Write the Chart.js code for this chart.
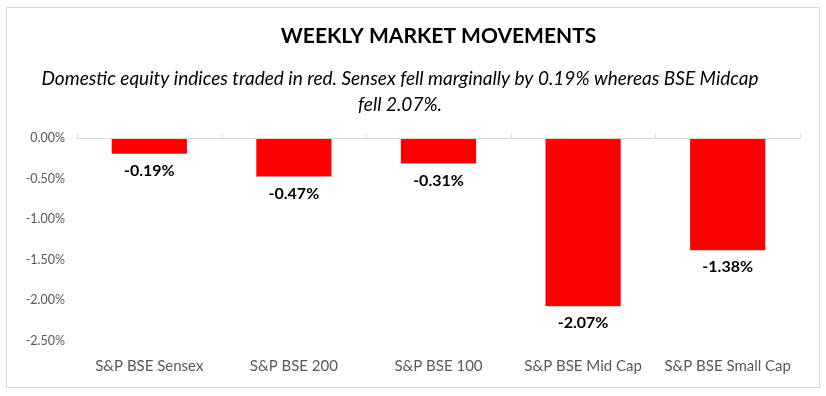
<!DOCTYPE html>
<html>
<head>
<meta charset="utf-8">
<script src="https://cdn.jsdelivr.net/npm/chart.js@4/dist/chart.umd.min.js"></script>
<style>
  html, body { margin: 0; padding: 0; background: #fff; }
  #wrap { width: 826px; height: 396px; }
</style>
</head>
<body>
<div id="wrap"><canvas id="marketChart" width="826" height="396"></canvas></div>
<script>
const indices = ["S&P BSE Sensex", "S&P BSE 200", "S&P BSE 100", "S&P BSE Mid Cap", "S&P BSE Small Cap"];
const weeklyChange = [-0.19, -0.47, -0.31, -2.07, -1.38];
const yTicks = [0, -0.5, -1, -1.5, -2, -2.5];

const titleText = "WEEKLY MARKET MOVEMENTS";
const subtitleLines = [
  "Domestic equity indices traded in red. Sensex fell marginally by 0.19% whereas BSE Midcap",
  "fell 2.07%."
];

const FONT = "Lato, 'Open Sans', sans-serif";

// frame, zero line with small category ticks, value labels under bars
const extras = {
  id: "extras",
  beforeDraw(chart) {
    const c = chart.ctx;
    c.save();
    c.fillStyle = "#fff";
    c.fillRect(0, 0, chart.width, chart.height);
    c.strokeStyle = "#d9d9d9";
    c.lineWidth = 1;
    c.strokeRect(6.5, 7.5, 813, 380);
    c.restore();
  },
  afterDatasetsDraw(chart) {
    const c = chart.ctx;
    const x = chart.scales.x, y = chart.scales.y;
    const y0 = Math.round(y.getPixelForValue(0)) + 0.5;
    c.save();
    c.strokeStyle = "#d9d9d9";
    c.lineWidth = 1;
    c.beginPath();
    c.moveTo(chart.chartArea.left, y0);
    c.lineTo(chart.chartArea.right, y0);
    for (let i = 0; i <= indices.length; i++) {
      const px = Math.round(x.getPixelForValue(i - 0.5)) + 0.5;
      c.moveTo(px, y0);
      c.lineTo(px, y0 - 5);
    }
    c.stroke();

    c.fillStyle = "#000";
    c.font = "bold 16px " + FONT;
    c.textAlign = "center";
    c.textBaseline = "middle";
    chart.getDatasetMeta(0).data.forEach((bar, i) => {
      c.fillText(weeklyChange[i].toFixed(2) + "%", bar.x, bar.y + 17);
    });
    c.restore();
  }
};

new Chart(document.getElementById("marketChart"), {
  type: "bar",
  data: {
    labels: indices,
    datasets: [{
      data: weeklyChange,
      backgroundColor: "#ff0000",
      barPercentage: 0.52,
      categoryPercentage: 1
    }]
  },
  options: {
    responsive: false,
    animation: false,
    layout: { padding: { left: 0, right: 26, top: 0, bottom: 10 } },
    plugins: {
      legend: { display: false },
      tooltip: { enabled: false },
      title: {
        display: true,
        fullSize: false,
        text: titleText,
        color: "#000",
        font: { family: FONT, size: 21, weight: "bold", lineHeight: 1.2 },
        padding: { top: 24, bottom: 17 }
      },
      subtitle: {
        display: true,
        text: subtitleLines,
        color: "#000",
        font: { family: FONT, size: 19, style: "italic", lineHeight: 1.37 },
        padding: { top: 0, bottom: 20 }
      }
    },
    scales: {
      x: {
        grid: { display: false, drawTicks: false },
        border: { display: false },
        ticks: { color: "#595959", font: { family: FONT, size: 15 }, padding: 16, maxRotation: 0 },
        afterFit(s) { s.height = 45; }
      },
      y: {
        min: -2.5,
        max: 0,
        grid: { display: false, drawTicks: false },
        border: { display: false },
        afterBuildTicks(s) { s.ticks = yTicks.map(v => ({ value: v })); },
        ticks: {
          color: "#595959",
          font: { family: FONT, size: 12.5 },
          padding: 12,
          callback: v => v.toFixed(2) + "%"
        },
        afterFit(s) { s.width = 77; }
      }
    }
  },
  plugins: [extras]
});
</script>
</body>
</html>
